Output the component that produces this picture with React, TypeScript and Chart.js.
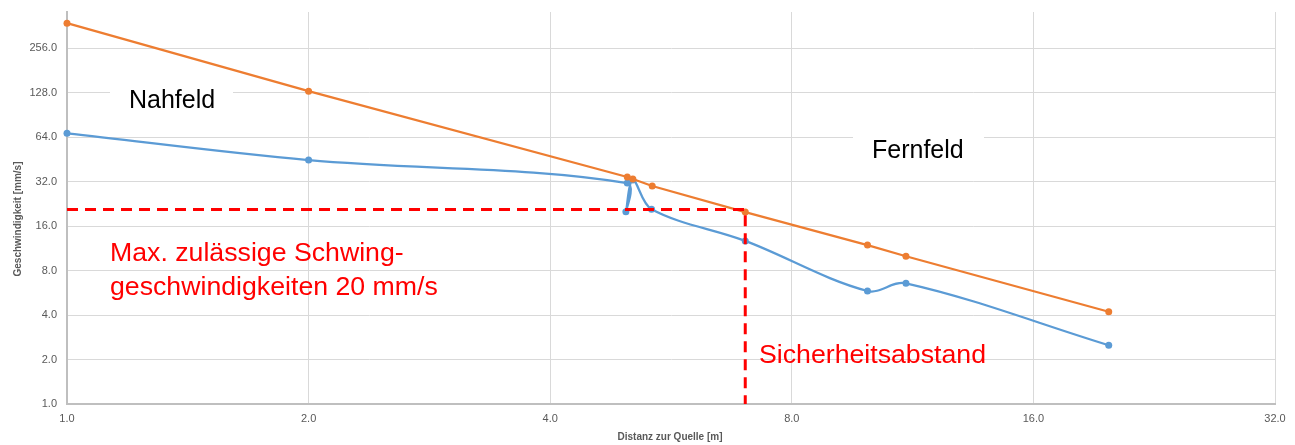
import React, { useEffect, useRef } from "react";
import { Chart, registerables } from "chart.js";

Chart.register(...registerables);

const xTicks = [1, 2, 4, 8, 16, 32];
const yTicks = [1, 2, 4, 8, 16, 32, 64, 128, 256];

const orangeX = [1, 2, 4.99, 5.07, 5.36, 7.0, 9.94, 11.1, 19.86];
const orangeY = [378, 131, 34.4, 33.3, 29.9, 19.9, 11.9, 10.0, 4.21];

const blueX = [1, 2, 4.99, 4.97, 5.07, 5.35, 7.0, 9.94, 11.1, 19.86];
const blueY = [67.9, 44.8, 31.3, 20.0, 32.8, 20.8, 12.7, 5.82, 6.56, 2.5];

const limitX = [1, 7, 7];
const limitY = [20.7, 20.7, 1];

const xTitle = "Distanz zur Quelle [m]";
const yTitle = "Geschwindigkeit [mm/s]";

const toPts = (xs: number[], ys: number[]) => xs.map((x, i) => ({ x, y: ys[i] }));

const annotPlugin = {
  id: "annot",
  beforeDatasetsDraw(chart: any) {
    const ctx = chart.ctx;
    ctx.save();
    ctx.fillStyle = "#ffffff";
    ctx.fillRect(110, 80, 123, 40);
    ctx.fillRect(853, 128, 131, 42);
    ctx.restore();
  },
  afterDatasetsDraw(chart: any) {
    const ctx = chart.ctx;
    ctx.save();
    ctx.textBaseline = "alphabetic";
    ctx.textAlign = "left";
    ctx.font = "25px 'Liberation Sans', Arial, sans-serif";
    ctx.fillStyle = "#000000";
    ctx.fillText("Nahfeld", 129, 108);
    ctx.fillText("Fernfeld", 872, 158);
    ctx.font = "26.7px 'Liberation Sans', Arial, sans-serif";
    ctx.fillStyle = "#ff0000";
    ctx.fillText("Max. zulässige Schwing-", 110, 261);
    ctx.fillText("geschwindigkeiten 20 mm/s", 110, 295);
    ctx.fillText("Sicherheitsabstand", 759, 363);

    ctx.fillStyle = "#595959";
    ctx.font = "bold 10px 'Liberation Sans', Arial, sans-serif";
    ctx.textAlign = "center";
    ctx.textBaseline = "middle";
    ctx.fillText(xTitle, 670, 437);
    ctx.translate(18, 219);
    ctx.rotate(-Math.PI / 2);
    ctx.fillText(yTitle, 0, 0);
    ctx.restore();
  },
};

export default function App() {
  const ref = useRef<HTMLCanvasElement | null>(null);

  useEffect(() => {
    if (!ref.current) return;
    const tickFont = { family: "'Liberation Sans', Arial, sans-serif", size: 11 };
    const chart = new Chart(ref.current, {
      type: "scatter",
      data: {
        datasets: [
          {
            label: "limit",
            data: toPts(limitX, limitY),
            showLine: true,
            borderColor: "#ff0000",
            borderWidth: 3,
            borderDash: [11, 7],
            pointRadius: 0,
            tension: 0,
          },
          {
            label: "orange",
            data: toPts(orangeX, orangeY),
            showLine: true,
            borderColor: "#ED7D31",
            backgroundColor: "#ED7D31",
            borderWidth: 2.25,
            pointRadius: 3.5,
            pointBorderWidth: 0,
            tension: 0,
            clip: false,
          },
          {
            label: "blue",
            data: toPts(blueX, blueY),
            showLine: true,
            borderColor: "#5B9BD5",
            backgroundColor: "#5B9BD5",
            borderWidth: 2.25,
            pointRadius: 3.5,
            pointBorderWidth: 0,
            tension: 0.35,
            clip: false,
          },
        ],
      },
      options: {
        responsive: false,
        animation: false,
        layout: { padding: { left: 0, top: 12, right: 20, bottom: 0 } },
        plugins: {
          legend: { display: false },
          tooltip: { enabled: false },
        },
        scales: {
          x: {
            type: "logarithmic",
            position: "bottom",
            min: 1,
            max: 32,
            afterBuildTicks: (s: any) => {
              s.ticks = xTicks.map((v) => ({ value: v }));
            },
            afterFit: (s: any) => {
              s.height = 41;
              s.paddingLeft = 0;
              s.paddingRight = 0;
            },
            ticks: {
              autoSkip: false,
              maxRotation: 0,
              padding: 8,
              color: "#595959",
              font: tickFont,
              callback: (v: any) => Number(v).toFixed(1),
            },
            grid: { color: "#d9d9d9", lineWidth: 1, drawTicks: false },
            border: { color: "#bfbfbf", width: 2 },
          },
          y: {
            type: "logarithmic",
            min: 1,
            max: 450,
            afterBuildTicks: (s: any) => {
              s.ticks = yTicks.map((v) => ({ value: v }));
            },
            afterFit: (s: any) => {
              s.width = 67;
              s.paddingTop = 0;
              s.paddingBottom = 0;
            },
            ticks: {
              autoSkip: false,
              padding: 10,
              color: "#595959",
              font: tickFont,
              callback: (v: any) => Number(v).toFixed(1),
            },
            grid: { color: "#d9d9d9", lineWidth: 1, drawTicks: false },
            border: { color: "#bfbfbf", width: 2 },
          },
        },
      },
      plugins: [annotPlugin],
    } as any);
    return () => chart.destroy();
  }, []);

  return (
    <div style={{ position: "fixed", left: 0, top: 0, width: 1295, height: 445, background: "#fff" }}>
      <canvas ref={ref} width={1295} height={445} style={{ display: "block" }} />
    </div>
  );
}
